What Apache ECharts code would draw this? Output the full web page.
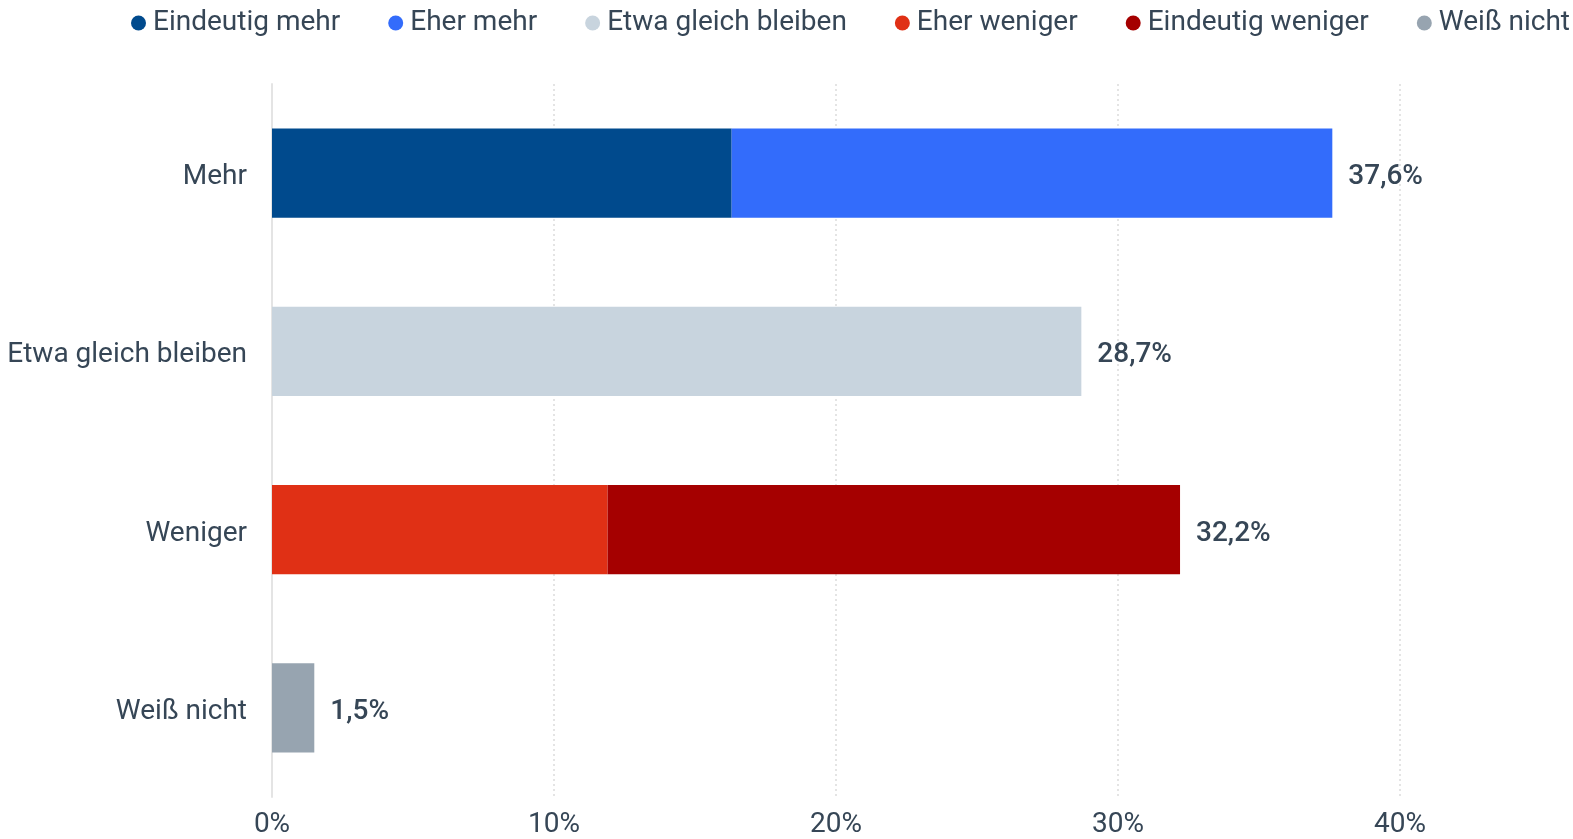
<!DOCTYPE html>
<html>
<head>
<meta charset="utf-8">
<script src="https://cdn.jsdelivr.net/npm/echarts@6/dist/echarts.min.js"></script>
<style>
  html, body { margin: 0; padding: 0; background: #fff; }
  #chart { width: 1573px; height: 839px; }
</style>
</head>
<body>
<div id="chart"></div>
<script>
// Kategorien (von oben nach unten)
const categories = ["Mehr", "Etwa gleich bleiben", "Weniger", "Weiß nicht"];

// Reihen, in Prozent
const eindeutigMehr = [16.3, "-", "-", "-"];
const eherMehr = [21.3, "-", "-", "-"];
const etwaGleich = ["-", 28.7, "-", "-"];
const eherWeniger = ["-", "-", 11.9, "-"];
const eindeutigWeniger = ["-", "-", 20.3, "-"];
const weissNicht = ["-", "-", "-", 1.5];

// Summen, die als Beschriftung am Balkenende stehen
const totals = [37.6, 28.7, 32.2, 1.5];

const axisTicks = [0, 10, 20, 30, 40];

const textColor = "#364656";
const fontFamily = "Roboto, 'Noto Sans', sans-serif";

function fmt(v) {
  return String(v).replace(".", ",") + "%";
}

function makeSeries(name, data, color, withLabel) {
  return {
    name: name,
    type: "bar",
    stack: "total",
    data: data,
    barWidth: "50%",
    itemStyle: { color: color },
    label: {
      show: withLabel,
      position: "right",
      distance: 16,
      offset: [0, 4],
      color: textColor,
      fontFamily: fontFamily,
      fontSize: 28,
      fontWeight: 500,
      formatter: (p) => fmt(totals[p.dataIndex])
    },
    emphasis: { disabled: true }
  };
}

const chart = echarts.init(document.getElementById("chart"));
chart.setOption({
  animation: false,
  textStyle: { fontFamily: fontFamily },
  legend: {
    top: 9,
    right: 3,
    padding: 0,
    icon: "circle",
    itemWidth: 15,
    itemHeight: 15,
    itemGap: 48,
    textStyle: { color: textColor, fontSize: 28, fontFamily: fontFamily, padding: [0, 0, 0, 2] },
    data: ["Eindeutig mehr", "Eher mehr", "Etwa gleich bleiben", "Eher weniger", "Eindeutig weniger", "Weiß nicht"]
  },
  grid: {
    left: 272,
    right: 173,
    top: 84,
    bottom: 39,
    containLabel: false
  },
  xAxis: {
    type: "value",
    min: axisTicks[0],
    max: axisTicks[axisTicks.length - 1],
    interval: 10,
    axisLine: { show: false },
    axisTick: { show: false },
    axisLabel: {
      color: textColor,
      fontSize: 28,
      fontFamily: fontFamily,
      margin: 14,
      formatter: (v) => v + "%"
    },
    splitLine: {
      show: true,
      lineStyle: { color: "#dcdcdc", type: [2, 3], width: 1.5 }
    }
  },
  yAxis: {
    type: "category",
    data: categories,
    inverse: true,
    axisLine: { show: true, lineStyle: { color: "#e4e4e4", width: 2 } },
    axisTick: { show: false },
    axisLabel: {
      color: textColor,
      fontSize: 28,
      fontFamily: fontFamily,
      margin: 25,
      verticalAlign: "top",
      lineHeight: 8
    }
  },
  series: [
    makeSeries("Eindeutig mehr", eindeutigMehr, "#004A8D", false),
    makeSeries("Eher mehr", eherMehr, "#336CFB", true),
    makeSeries("Etwa gleich bleiben", etwaGleich, "#C8D4DE", true),
    makeSeries("Eher weniger", eherWeniger, "#E03015", false),
    makeSeries("Eindeutig weniger", eindeutigWeniger, "#A50000", true),
    makeSeries("Weiß nicht", weissNicht, "#97A4B0", true)
  ]
});
</script>
</body>
</html>
